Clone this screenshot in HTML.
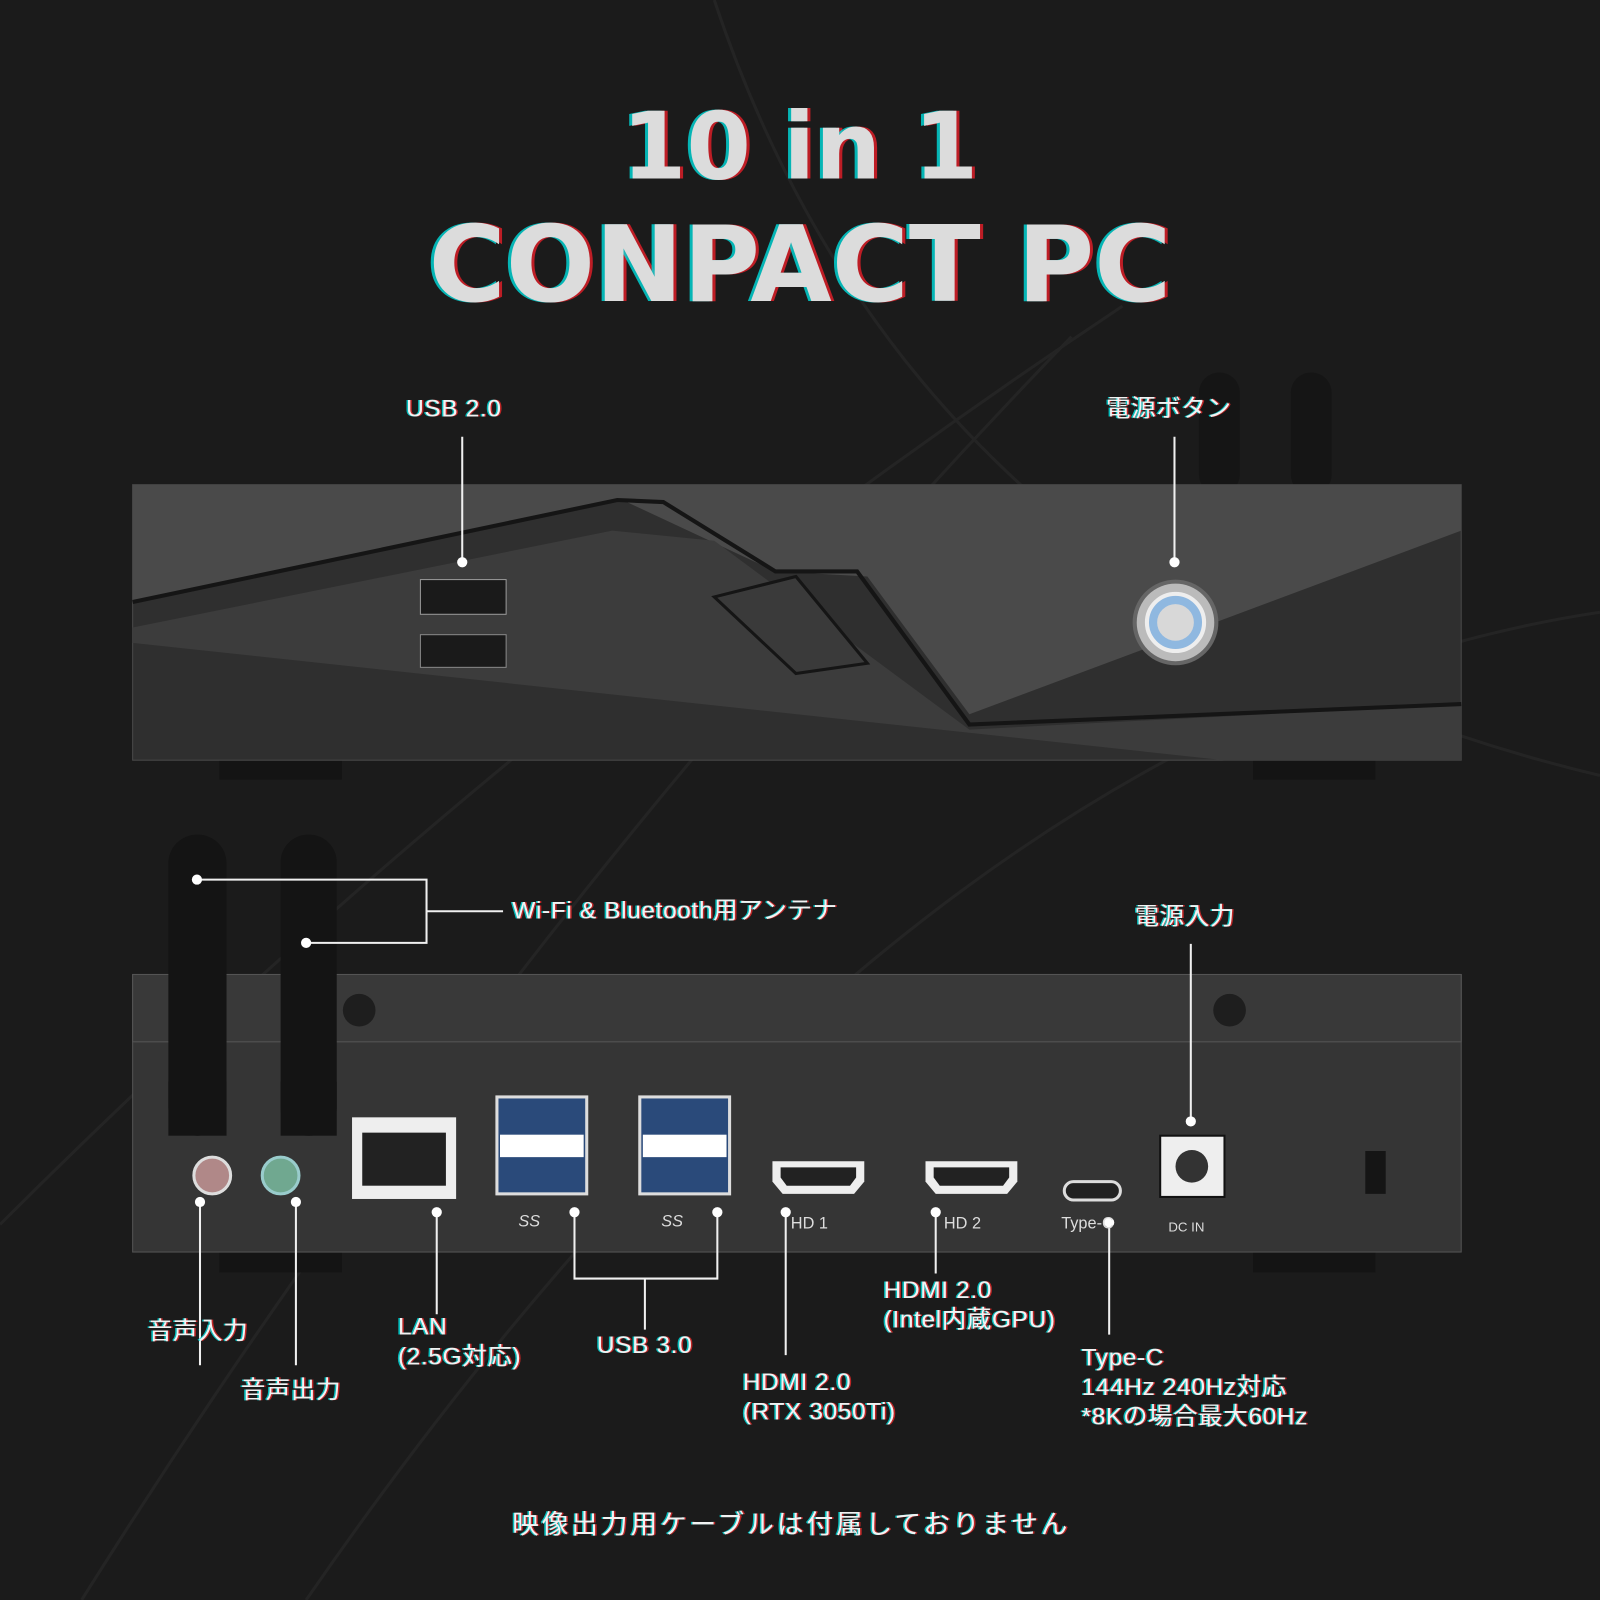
<!DOCTYPE html>
<html><head><meta charset="utf-8"><style>
html,body{margin:0;padding:0;background:#1b1b1b;width:1600px;height:1600px;overflow:hidden}
#s{position:absolute;left:0;top:0;width:1568px;height:1568px;transform:scale(1.0204);transform-origin:0 0}
.t{position:absolute;color:#f2f2f2;font-family:"Liberation Sans","Noto Sans CJK JP",sans-serif;font-size:24px;letter-spacing:0.6px;line-height:29px;white-space:nowrap;text-shadow:-1.5px 0 rgba(0,230,230,.8),1.5px 0 rgba(230,40,40,.8)}
.h{position:absolute;left:0;width:1568px;text-align:center;font-family:"DejaVu Sans","Liberation Sans",sans-serif;font-weight:bold;color:#dcdcdc;text-shadow:-3px 0 rgba(0,220,220,.8),3px 0 rgba(230,30,40,.8)}
</style></head><body><div id="s">
<svg width="1568" height="1568" style="position:absolute;left:0;top:0">
<g stroke="#242424" stroke-width="3" fill="none">
<path d="M700 0 Q900 600 1568 760"/><path d="M0 1200 Q500 700 1100 300"/><path d="M80 1568 Q500 900 1050 330"/><path d="M300 1568 Q900 700 1568 600"/>
</g>
<rect x="1175" y="365" width="40" height="120" rx="20" fill="#151515"/>
<rect x="1265" y="365" width="40" height="120" rx="20" fill="#151515"/>
<rect x="215" y="742" width="120" height="22" fill="#141414"/><rect x="1228" y="742" width="120" height="22" fill="#141414"/>
<rect x="130" y="475" width="1302" height="270" fill="#2f2f2f" stroke="#4a4a4a"/>
<polygon points="130,475 1432,475 1432,520 950,700 850,565 760,560 610,490 130,590" fill="#4a4a4a"/>
<polygon points="130,615 600,520 700,530 950,715 1432,690 1432,745 1200,745 130,630" fill="#3c3c3c"/>
<polyline points="130,590 605,490 650,492 760,560 840,560 950,710 1432,690" fill="none" stroke="#151515" stroke-width="4"/>
<polygon points="700,585 780,565 850,650 780,660" fill="#3a3a3a" stroke="#151515" stroke-width="3"/>
<rect x="412" y="568" width="84" height="34" fill="#1a1a1a" stroke="#999"/><rect x="412" y="622" width="84" height="32" fill="#1a1a1a" stroke="#888"/>
<circle cx="1152" cy="610" r="40" fill="#bbb" stroke="#666" stroke-width="4"/><circle cx="1152" cy="610" r="28" fill="#8fb8e0" stroke="#eee" stroke-width="4"/><circle cx="1152" cy="610" r="18" fill="#d8d8d8"/>
<rect x="215" y="1225" width="120" height="22" fill="#141414"/><rect x="1228" y="1225" width="120" height="22" fill="#141414"/>
<rect x="130" y="955" width="1302" height="272" fill="#353535" stroke="#555"/>
<rect x="130" y="955" width="1302" height="66" fill="#393939" stroke="#555"/>
<circle cx="352" cy="990" r="16" fill="#1e1e1e"/><circle cx="1205" cy="990" r="16" fill="#1e1e1e"/>
<rect x="165" y="818" width="57" height="295" rx="28" fill="#141414"/><rect x="165" y="1060" width="57" height="53" fill="#141414"/>
<rect x="275" y="818" width="55" height="295" rx="27" fill="#141414"/><rect x="275" y="1060" width="55" height="53" fill="#141414"/>
<circle cx="208" cy="1152" r="18" fill="#b08888" stroke="#ddd" stroke-width="3"/><circle cx="275" cy="1152" r="18" fill="#70a890" stroke="#9cc" stroke-width="3"/>
<rect x="345" y="1095" width="102" height="80" fill="#eee"/><rect x="355" y="1110" width="82" height="52" fill="#222"/>
<rect x="487" y="1075" width="88" height="95" fill="#2a4a7a" stroke="#ddd" stroke-width="3"/><rect x="490" y="1112" width="82" height="22" fill="#fff"/>
<rect x="627" y="1075" width="88" height="95" fill="#2a4a7a" stroke="#ddd" stroke-width="3"/><rect x="630" y="1112" width="82" height="22" fill="#fff"/>
<path d="M757 1138h90v20l-10 12h-70l-10-12z" fill="#eee"/><path d="M765 1144h74v10l-6 8h-62l-6-8z" fill="#222"/>
<path d="M907 1138h90v20l-10 12h-70l-10-12z" fill="#eee"/><path d="M915 1144h74v10l-6 8h-62l-6-8z" fill="#222"/>
<rect x="1043" y="1158" width="55" height="18" rx="9" fill="#222" stroke="#ddd" stroke-width="3"/>
<rect x="1137" y="1113" width="63" height="60" fill="#eee" stroke="#111" stroke-width="2"/><circle cx="1168" cy="1143" r="16" fill="#333"/>
<rect x="1338" y="1128" width="20" height="42" fill="#151515"/>
<g stroke="#f0f0f0" stroke-width="2" fill="none">
<path d="M453 428v120M1151 428v120M193 862h225v62h-118M418 893h75M1167 925v172"/>
<path d="M196 1178v160M290 1178v160M428 1188v100M563 1188v65h140v-65M632 1253v50M770 1188v140M917 1188v60M1087 1198v110"/>
</g>
<g fill="#fff"><circle cx="453" cy="551" r="5"/><circle cx="1151" cy="551" r="5"/><circle cx="193" cy="862" r="5"/><circle cx="300" cy="924" r="5"/><circle cx="1167" cy="1099" r="5"/>
<circle cx="196" cy="1178" r="5"/><circle cx="290" cy="1178" r="5"/><circle cx="428" cy="1188" r="5"/><circle cx="563" cy="1188" r="5"/><circle cx="703" cy="1188" r="5"/><circle cx="770" cy="1188" r="5"/><circle cx="917" cy="1188" r="5"/><circle cx="1087" cy="1198" r="5"/></g>
<g font-family="Liberation Sans" fill="#ddd" font-size="16"><text x="775" y="1204">HD 1</text><text x="925" y="1204">HD 2</text><text x="1040" y="1204">Type-C</text><text x="1145" y="1207" font-size="13">DC IN</text><text x="508" y="1202" font-style="italic">SS</text><text x="648" y="1202" font-style="italic">SS</text></g>
</svg>
<div class="h" style="top:90px;font-size:91px;line-height:110px">10 in 1</div>
<div class="h" style="top:200px;font-size:103px;line-height:120px">CONPACT PC</div>
<div class="t" style="left:398px;top:386px">USB 2.0</div>
<div class="t" style="left:1084px;top:386px">電源ボタン</div>
<div class="t" style="left:502px;top:878px">Wi-Fi &amp; Bluetooth用アンテナ</div>
<div class="t" style="left:1112px;top:884px">電源入力</div>
<div class="t" style="left:145px;top:1290px">音声入力</div>
<div class="t" style="left:236px;top:1348px">音声出力</div>
<div class="t" style="left:390px;top:1286px">LAN<br>(2.5G対応)</div>
<div class="t" style="left:585px;top:1304px">USB 3.0</div>
<div class="t" style="left:728px;top:1340px">HDMI 2.0<br>(RTX 3050Ti)</div>
<div class="t" style="left:866px;top:1250px">HDMI 2.0<br>(Intel内蔵GPU)</div>
<div class="t" style="left:1060px;top:1316px">Type-C<br>144Hz 240Hz対応<br>*8Kの場合最大60Hz</div>
<div class="t" style="left:502px;top:1480px;font-size:26px;letter-spacing:3px">映像出力用ケーブルは付属しておりません</div>
</div></body></html>
